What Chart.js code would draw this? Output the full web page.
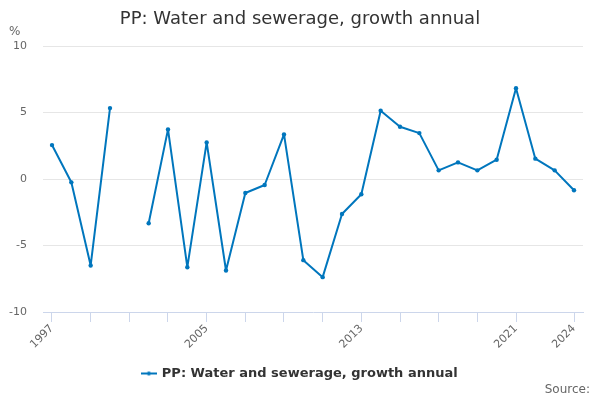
<!DOCTYPE html>
<html>
<head>
<meta charset="utf-8">
<script src="https://cdn.jsdelivr.net/npm/chart.js@4"></script>
<style>
html,body{margin:0;padding:0;background:#fff;}
#wrap{width:600px;height:400px;position:relative;}
</style>
</head>
<body>
<div id="wrap"><canvas id="c" width="600" height="400"></canvas></div>
<script>
const titleText = "PP: Water and sewerage, growth annual";
const seriesName = "PP: Water and sewerage, growth annual";
const years = [1997,1998,1999,2000,2001,2002,2003,2004,2005,2006,2007,2008,2009,2010,2011,2012,2013,2014,2015,2016,2017,2018,2019,2020,2021,2022,2023,2024];
const values = [2.55,-0.25,-6.5,5.33,null,-3.33,3.73,-6.63,2.75,-6.88,-1.05,-0.45,3.35,-6.1,-7.38,-2.63,-1.15,5.13,3.93,3.45,0.65,1.25,0.65,1.45,6.83,1.53,0.65,-0.85];
const xTickYears = [1997,1999,2001,2003,2005,2007,2009,2011,2013,2015,2017,2019,2021,2024];
const xLabelYears = [1997,2005,2013,2021,2024];
const yTicks = [-10,-5,0,5,10];
const yUnit = "%";
const sourceText = "Source:";

const lineColor = "rgb(0,118,189)";
const FONT = "'DejaVu Sans', sans-serif";

// legend symbol: short line with dot
const sym = document.createElement('canvas');
sym.width = 16; sym.height = 6;
(function(){
  const g = sym.getContext('2d');
  g.strokeStyle = lineColor; g.lineWidth = 2;
  g.beginPath(); g.moveTo(0,3); g.lineTo(16,3); g.stroke();
  g.fillStyle = lineColor; g.beginPath(); g.arc(8,3,2,0,Math.PI*2); g.fill();
})();

const extras = {
  id: 'extras',
  afterDraw(chart){
    const ctx = chart.ctx;
    ctx.save();
    ctx.fillStyle = '#666';
    ctx.font = "12px " + FONT;
    ctx.textBaseline = 'middle';
    ctx.textAlign = 'left';
    ctx.fillText(yUnit, 9, 32);
    ctx.textAlign = 'right';
    ctx.fillText(sourceText, 590, 390);
    ctx.restore();
  }
};

new Chart(document.getElementById('c'), {
  type: 'line',
  data: {
    datasets: [{
      label: seriesName,
      data: years.map((y,i)=>({x:y, y:values[i]})),
      borderColor: lineColor,
      backgroundColor: lineColor,
      borderWidth: 2,
      borderJoinStyle: 'round',
      pointRadius: 2.2,
      pointBorderWidth: 0,
      pointHoverRadius: 2,
      pointStyle: 'circle',
      spanGaps: false,
      tension: 0
    }]
  },
  options: {
    responsive: false,
    animation: false,
    devicePixelRatio: 1,
    layout: { padding: { left: 0, right: 0, top: 0, bottom: 10 } },
    plugins: {
      tooltip: { enabled: false },
      title: {
        display: true,
        text: titleText,
        color: '#333',
        font: { family: FONT, size: 18, weight: 'normal' },
        padding: { top: 9, bottom: 15.4 }
      },
      legend: {
        position: 'bottom',
        labels: {
          color: '#333',
          font: { family: FONT, size: 13, weight: 'bold' },
          usePointStyle: true,
          generateLabels(chart){
            return [{
              text: seriesName,
              pointStyle: sym,
              fillStyle: lineColor,
              strokeStyle: lineColor,
              lineWidth: 0,
              hidden: false,
              datasetIndex: 0,
              fontColor: '#333'
            }];
          },
          padding: 10
        }
      }
    },
    scales: {
      x: {
        type: 'linear',
        min: 1996.5345,
        max: 2024.4655,
        afterBuildTicks(scale){ scale.ticks = xTickYears.map(v=>({value:v})); },
        afterFit(scale){ scale.height = 45; },
        ticks: {
          autoSkip: false,
          minRotation: 45,
          maxRotation: 45,
          color: '#666',
          font: { family: FONT, size: 11 },
          padding: 0,
          callback(v){ return xLabelYears.includes(v) ? String(v) : ''; }
        },
        grid: {
          drawOnChartArea: false,
          drawTicks: true,
          tickLength: 10,
          color: '#ccd6eb'
        },
        border: { display: true, color: '#ccd6eb', width: 1 }
      },
      y: {
        min: -10,
        max: 10,
        afterBuildTicks(scale){ scale.ticks = yTicks.map(v=>({value:v})); },
        afterFit(scale){ scale.width = 43; },
        ticks: {
          color: '#666',
          font: { family: FONT, size: 11 },
          padding: 16
        },
        grid: {
          drawTicks: false,
          color(ctx){ return ctx.tick && ctx.tick.value === -10 ? 'rgba(0,0,0,0)' : '#e6e6e6'; },
          lineWidth: 1
        },
        border: { display: false }
      },
      yRight: {
        type: 'linear',
        position: 'right',
        min: -10,
        max: 10,
        afterFit(scale){ scale.width = 17; },
        ticks: { display: false },
        grid: { display: false, drawTicks: false },
        border: { display: false }
      }
    }
  },
  plugins: [extras]
});
</script>
</body>
</html>
